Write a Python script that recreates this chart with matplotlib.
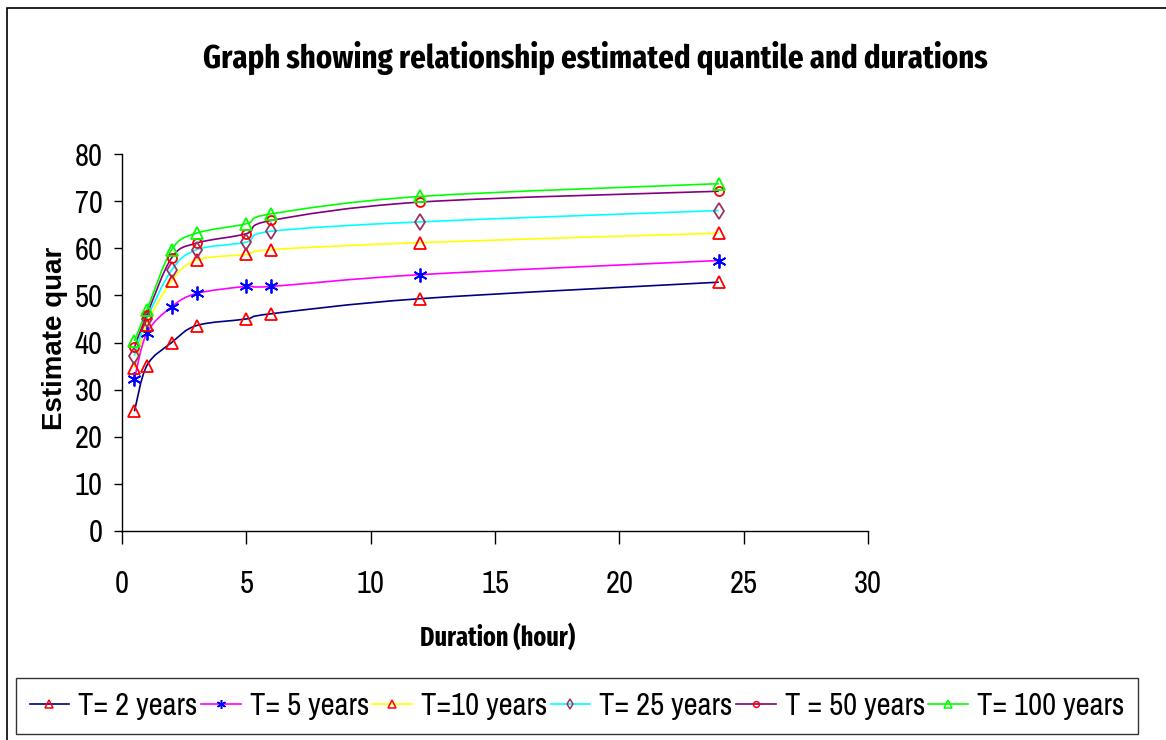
import matplotlib
matplotlib.use("Agg")
import matplotlib.pyplot as plt
from matplotlib.path import Path
from matplotlib.patches import PathPatch, Rectangle
from matplotlib.lines import Line2D
import numpy as np

# durations (hour)
durations = [0.5, 1, 2, 3, 5, 6, 12, 24]

# estimated quantiles per return period
t2 = [25.4, 35.1, 40.0, 43.6, 45.0, 46.1, 49.3, 52.8]
t5 = [32.3, 42.0, 47.6, 50.4, 51.9, 51.9, 54.4, 57.4]
t10 = [34.6, 43.8, 53.1, 57.5, 58.7, 59.7, 61.2, 63.2]
t25 = [37.2, 45.0, 55.4, 59.7, 61.3, 63.6, 65.6, 68.0]
t50 = [39.0, 45.9, 58.0, 61.1, 63.1, 65.9, 69.8, 72.1]
t100 = [40.3, 46.9, 59.7, 63.2, 65.2, 67.3, 71.0, 73.7]

labels = ["T= 2 years", "T= 5 years", "T=10 years",
          "T= 25 years", "T = 50 years", "T= 100 years"]

NARROW = ["Archivo Narrow", "DejaVu Sans"]
NARROW_BOLD = ["Fira Sans Extra Condensed", "DejaVu Sans"]
plt.rcParams['font.family'] = NARROW

# (series, line colour, marker, marker colour, marker size)
styles = [
    (t2, "#000080", "^", "#FF0000", 8),
    (t5, "#FF00FF", (6, 2, 0), "#0000FF", 10),
    (t10, "#FFFF00", "^", "#FF0000", 8),
    (t25, "#00FFFF", "d", "#993366", 8),
    (t50, "#800080", "o", "#FF0000", 6.5),
    (t100, "#00FF00", "^", "#00FF00", 8),
]


def smooth_path(x, y):
    # excel-like smoothed line: cubic bezier through the points
    pts = np.column_stack([x, y]).astype(float)
    n = len(pts)
    verts = [pts[0]]
    codes = [Path.MOVETO]
    for i in range(n - 1):
        p0 = pts[max(i - 1, 0)]
        p1 = pts[i]
        p2 = pts[i + 1]
        p3 = pts[min(i + 2, n - 1)]
        c1 = p1 + (p2 - p0) / 6.0
        c2 = p2 - (p3 - p1) / 6.0
        verts += [c1, c2, p2]
        codes += [Path.CURVE4] * 3
    return Path(verts, codes)


W, H = 1166, 740
fig = plt.figure(figsize=(W / 100, H / 100), dpi=100)
ax = fig.add_axes([122 / W, 1 - 531 / H, (868 - 122) / W, (531 - 154) / H])

handles = []
for (vals, lc, mk, mc, ms), lab in zip(styles, labels):
    ax.add_patch(PathPatch(smooth_path(durations, vals), fill=False,
                           edgecolor=lc, lw=1.2, zorder=2))
    ax.plot(durations, vals, linestyle='none', marker=mk, ms=ms,
            mfc='none', mec=mc, mew=1.3, zorder=3)
    handles.append(Line2D([], [], color=lc, lw=1.2, marker=mk,
                          ms=ms * 0.65, mfc='none', mec=mc, mew=1.1))

ax.set_xlim(0, 30)
ax.set_ylim(0, 80)
ax.set_xticks(range(0, 31, 5))
ax.set_yticks(range(0, 81, 10))
for s in ['top', 'right']:
    ax.spines[s].set_visible(False)
for s in ['left', 'bottom']:
    ax.spines[s].set_linewidth(1.0)
ax.tick_params(axis='y', direction='out', length=6, width=1, labelsize=22, pad=8)
ax.tick_params(axis='x', direction='out', length=9, width=1, labelsize=22, pad=19)

fig.text(595 / W, 1 - 58 / H,
         "Graph showing relationship estimated quantile and durations",
         ha='center', va='center', fontsize=24, fontweight='bold',
         family=NARROW_BOLD)
fig.text(498 / W, 1 - 637 / H, "Duration (hour)", ha='center', va='center',
         fontsize=19, fontweight='bold', family=NARROW_BOLD)
fig.text(55 / W, 1 - 338 / H, "Estimate quar", ha='center', va='center',
         rotation=90, fontsize=20, fontweight='bold',
         family=["Liberation Sans", "DejaVu Sans"])

# chart border
fig.patches.append(Rectangle((7 / W, -0.01), 1.2, 1 - 8 / H + 0.01,
                             transform=fig.transFigure, fill=False,
                             edgecolor='black', lw=1.2))

leg = fig.legend(handles=handles, labels=labels, ncol=6,
                 loc='center', bbox_to_anchor=(577 / W, 1 - 706 / H),
                 fontsize=22, frameon=True, fancybox=False,
                 handlelength=1.3, handletextpad=0.3, columnspacing=0.1,
                 borderpad=0.45, borderaxespad=0)
leg.get_frame().set_edgecolor('black')
leg.get_frame().set_linewidth(1.0)

fig.savefig("out.png", dpi=100)
